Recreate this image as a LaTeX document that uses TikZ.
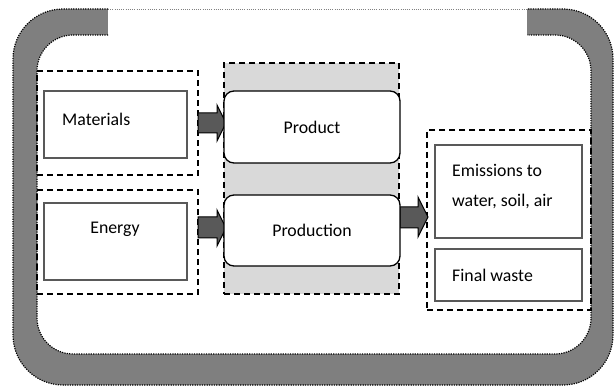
\documentclass[tikz,border=0pt]{standalone}
\usepackage{fontspec}
\setmainfont{Carlito}
\definecolor{bandgray}{HTML}{7F7F7F}
\definecolor{regiongray}{HTML}{D9D9D9}
\definecolor{arrowgray}{HTML}{595959}
\definecolor{boxline}{HTML}{595959}
\tikzset{
  dashbox/.style={draw=black, line width=1.3pt, dash pattern=on 6pt off 4pt, inner sep=0pt},
  plainbox/.style={draw=boxline, line width=1.5pt, fill=white, inner sep=0pt},
  roundbox/.style={draw=black, line width=1.3pt, fill=white, rounded corners=10pt, inner sep=0pt},
  txt/.style={font=\fontsize{17.8}{30}\selectfont, inner sep=0pt},
  blockarrow/.style={fill=arrowgray, draw=black, line width=1pt, line join=miter},
  banddots/.style={draw=black, line width=1.2pt, dash pattern=on 1.2pt off 1.2pt},
}
\begin{document}
\begin{tikzpicture}[x=1pt,y=-1pt]
\useasboundingbox (0,0) rectangle (615,387);
\fill[white] (0,0) rectangle (615,387);
% outer band
\fill[bandgray, even odd rule] [rounded corners=50pt] (13,9) rectangle (613,385)
  [rounded corners=36pt] (37,35) rectangle (591,354);
\fill[white] (108,8) rectangle (527,35.6);
\draw[banddots, rounded corners=50pt] (108,9) -- (13,9) -- (13,385) -- (613,385) -- (613,9) -- (527,9);
\draw[banddots, rounded corners=36pt] (108,35) -- (37,35) -- (37,354) -- (591,354) -- (591,35) -- (527,35);
\draw[gray, line width=0.6pt, dash pattern=on 1pt off 1.2pt] (108,9) -- (527,9);
% dashed groups
\node[dashbox, fill=regiongray, minimum width=175pt, minimum height=231pt] (region) at (311.5,178.5) {};
\node[dashbox, minimum width=161pt, minimum height=104pt] (grp1) at (117.5,123) {};
\node[dashbox, minimum width=161pt, minimum height=104pt] (grp2) at (117.5,242) {};
\node[dashbox, minimum width=164pt, minimum height=180pt] (grp3) at (509,220) {};
% block arrows
\draw[blockarrow] (198,113) -- (217,113) -- (217,105) -- (226,123) -- (217,141) -- (217,133) -- (198,133) -- cycle;
\draw[blockarrow] (198,217) -- (217,217) -- (217,210) -- (226,228) -- (217,246) -- (217,238) -- (198,238) -- cycle;
\draw[blockarrow] (400,207) -- (418,207) -- (418,197) -- (428,217) -- (418,237) -- (418,228) -- (400,228) -- cycle;
% boxes
\node[plainbox, minimum width=143pt, minimum height=67pt] (mat) at (115.5,124.5) {};
\node[txt, anchor=west] (matt) at (62,119) {Materials};
\node[plainbox, minimum width=143pt, minimum height=77pt] (ene) at (115.5,241.5) {};
\node[txt] (enet) at (115,229) {Energy};
\node[roundbox, txt, minimum width=176pt, minimum height=72pt] (prod) at (312,127) {Product};
\node[roundbox, txt, minimum width=176pt, minimum height=71pt] (proc) at (312,230.5) {Production};
\node[plainbox, minimum width=147pt, minimum height=93pt] (emi) at (508.5,191.5) {};
\node[txt, anchor=west, align=left] (emit) at (452,187) {Emissions to\\water, soil, air};
\node[plainbox, minimum width=147pt, minimum height=52pt] (fin) at (508.5,275) {};
\node[txt, anchor=west] (fint) at (452,275) {Final waste};
\end{tikzpicture}
\end{document}
